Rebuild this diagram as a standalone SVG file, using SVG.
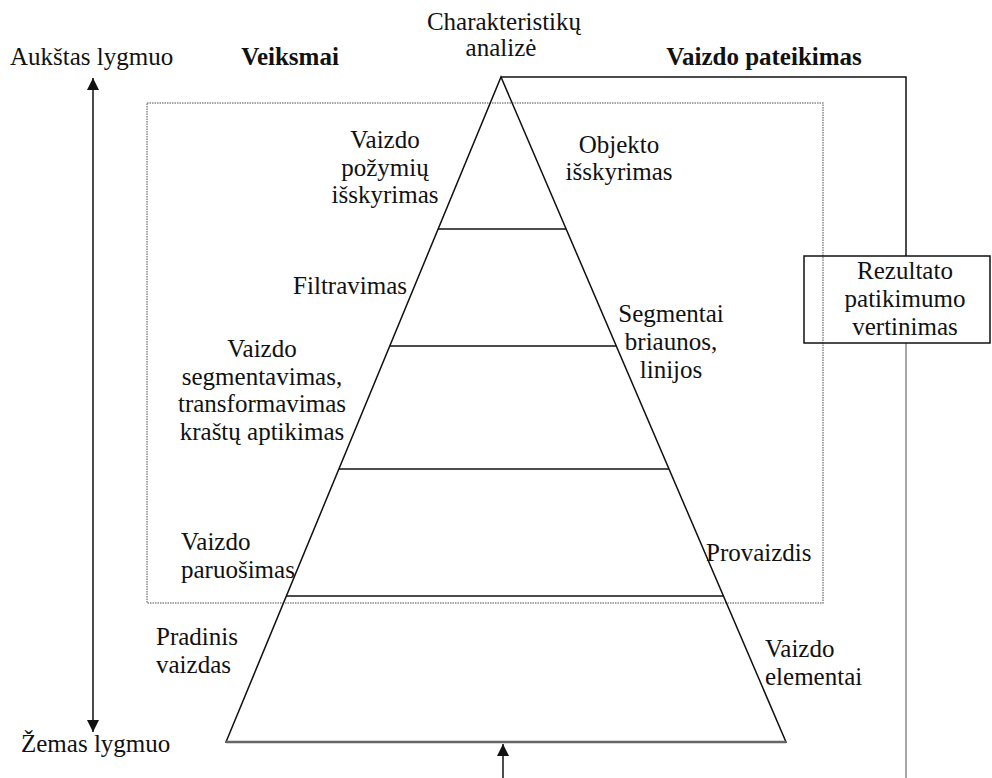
<svg xmlns="http://www.w3.org/2000/svg" width="992" height="778" viewBox="0 0 992 778">
<defs>
<style>
text{font-family:"Liberation Serif","Times New Roman","DejaVu Serif",serif;font-size:25px;fill:#111}
.b{font-weight:bold}
.m{text-anchor:middle}
.ln{stroke:#111;stroke-width:1.5;fill:none}
.gr{stroke:#888;stroke-width:1.5;fill:none}
.dot{stroke:#888;stroke-width:1.5;fill:none;stroke-dasharray:1.5 1}
</style>
<marker id="ah" viewBox="0 0 12 16" refX="12" refY="8" markerWidth="12" markerHeight="16" markerUnits="userSpaceOnUse" orient="auto-start-reverse">
<path d="M0,2 L12,8 L0,14 Z" fill="#111"/>
</marker>
</defs>
<rect width="992" height="778" fill="#fff"/>
<g id="frame">
<rect class="dot" x="147" y="103" width="676" height="500"/>
</g>
<g id="pyramid">
<polygon class="ln" points="501,77 786,742 226,742"/>
<line class="ln" x1="438" y1="229" x2="566" y2="229"/>
<line class="ln" x1="390" y1="346" x2="616" y2="346"/>
<line class="ln" x1="339" y1="469" x2="669" y2="469"/>
<line class="ln" x1="286" y1="596" x2="723" y2="596"/>
<line x1="226" y1="742" x2="786" y2="742" stroke="#666" stroke-width="2.5"/>
</g>
<g id="connectors">
<line class="ln" x1="93" y1="78" x2="93" y2="732" marker-start="url(#ah)" marker-end="url(#ah)"/>
<line class="ln" x1="503" y1="778" x2="503" y2="744" marker-end="url(#ah)"/>
<polyline class="ln" points="501,77 906,77 906,256"/>
<line class="gr" x1="906" y1="343" x2="906" y2="778"/>
</g>
<g id="n-result">
<rect class="ln" x="804" y="256" width="186" height="87"/>
<text class="m" x="905" y="279">Rezultato</text>
<text class="m" x="905" y="307">patikimumo</text>
<text class="m" x="905" y="335">vertinimas</text>
</g>
<g id="labels-top">
<text x="10" y="65">Aukštas lygmuo</text>
<text class="b m" x="290" y="65">Veiksmai</text>
<text class="m" x="504" y="30">Charakteristikų</text>
<text class="m" x="501" y="56">analizė</text>
<text class="b m" x="764" y="65">Vaizdo pateikimas</text>
</g>
<g id="n-pozymiai">
<text class="m" x="385" y="148">Vaizdo</text>
<text class="m" x="385" y="176">požymių</text>
<text class="m" x="385" y="203">išskyrimas</text>
</g>
<g id="n-objekto">
<text class="m" x="619" y="153">Objekto</text>
<text class="m" x="619" y="180">išskyrimas</text>
</g>
<g id="n-filtravimas">
<text x="407" y="294" text-anchor="end">Filtravimas</text>
</g>
<g id="n-segmentai">
<text class="m" x="671" y="322">Segmentai</text>
<text class="m" x="671" y="350">briaunos,</text>
<text class="m" x="671" y="378">linijos</text>
</g>
<g id="n-segmentavimas">
<text class="m" x="262" y="357">Vaizdo</text>
<text class="m" x="262" y="385">segmentavimas,</text>
<text class="m" x="262" y="412">transformavimas</text>
<text class="m" x="262" y="440">kraštų aptikimas</text>
</g>
<g id="n-paruosimas">
<text x="181" y="550">Vaizdo</text>
<text x="181" y="578">paruošimas</text>
</g>
<g id="n-provaizdis">
<text x="706" y="561">Provaizdis</text>
</g>
<g id="n-pradinis">
<text x="156" y="645">Pradinis</text>
<text x="156" y="673">vaizdas</text>
</g>
<g id="n-elementai">
<text x="765" y="657">Vaizdo</text>
<text x="765" y="685">elementai</text>
</g>
<g id="labels-bottom">
<text x="21" y="752">Žemas lygmuo</text>
</g>
</svg>
